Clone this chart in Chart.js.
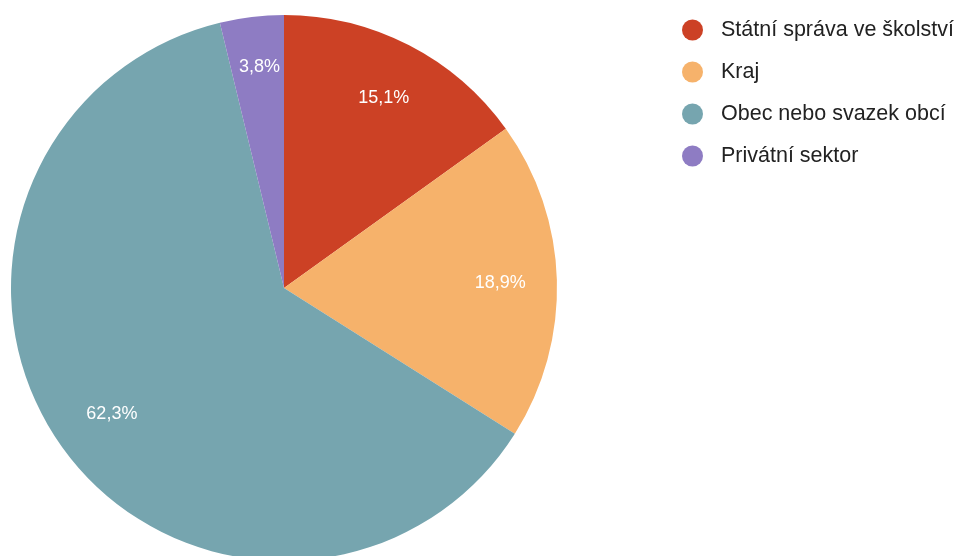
<!DOCTYPE html>
<html>
<head>
<meta charset="utf-8">
<script src="https://cdn.jsdelivr.net/npm/chart.js@4"></script>
<style>
  html, body { margin: 0; padding: 0; background: #fff; overflow: hidden; }
  #wrap { width: 959px; height: 562px; position: relative; }
</style>
</head>
<body>
<div id="wrap"><canvas id="myChart"></canvas></div>
<script>
// zřizovatelé - počty
var labels = ['Státní správa ve školství', 'Kraj', 'Obec nebo svazek obcí', 'Privátní sektor'];
var counts = [8, 10, 33, 2];
var colors = ['#cc4125', '#f6b26b', '#76a5af', '#8e7cc3'];

var font = "'Liberation Sans', Arial, sans-serif";

function pct(v, total) {
    return (v / total * 100).toFixed(1).replace('.', ',') + '%';
}

// percent text inside each slice
var sliceLabels = {
    id: 'sliceLabels',
    afterDatasetsDraw: function(chart) {
        var ctx = chart.ctx;
        var meta = chart.getDatasetMeta(0);
        var data = chart.data.datasets[0].data;
        var total = data.reduce(function(a, b) { return a + b; }, 0);
        ctx.save();
        ctx.font = '18px ' + font;
        ctx.fillStyle = '#ffffff';
        ctx.textAlign = 'center';
        ctx.textBaseline = 'middle';
        meta.data.forEach(function(arc, i) {
            var mid = (arc.startAngle + arc.endAngle) / 2;
            var r = arc.outerRadius * (data[i] / total < 0.05 ? 0.82 : 0.785);
            ctx.fillText(pct(data[i], total), arc.x + Math.cos(mid) * r + 2, arc.y + Math.sin(mid) * r + 1);
        });
        ctx.restore();
    }
};

// legend on the right with round markers
var sideLegend = {
    id: 'sideLegend',
    afterDraw: function(chart) {
        var ctx = chart.ctx;
        var ds = chart.data.datasets[0];
        ctx.save();
        ctx.font = '21.5px ' + font;
        ctx.textBaseline = 'middle';
        chart.data.labels.forEach(function(lbl, i) {
            var y = 30 + i * 42;
            ctx.beginPath();
            ctx.arc(692.5, y, 10.5, 0, Math.PI * 2);
            ctx.fillStyle = ds.backgroundColor[i];
            ctx.fill();
            ctx.fillStyle = '#222222';
            ctx.fillText(lbl, 721, y);
        });
        ctx.restore();
    }
};

var ctx = document.getElementById('myChart').getContext('2d');
var myPie = new Chart(ctx, {
    type: 'pie',
    data: {
        labels: labels,
        datasets: [{
            data: counts,
            backgroundColor: colors,
            borderWidth: 0
        }]
    },
    options: {
        responsive: true,
        maintainAspectRatio: false,
        animation: false,
        layout: { padding: { left: 11, top: 15, right: 402, bottom: 1 } },
        plugins: {
            legend: { display: false },
            tooltip: { enabled: false }
        }
    },
    plugins: [sliceLabels, sideLegend]
});
</script>
</body>
</html>
